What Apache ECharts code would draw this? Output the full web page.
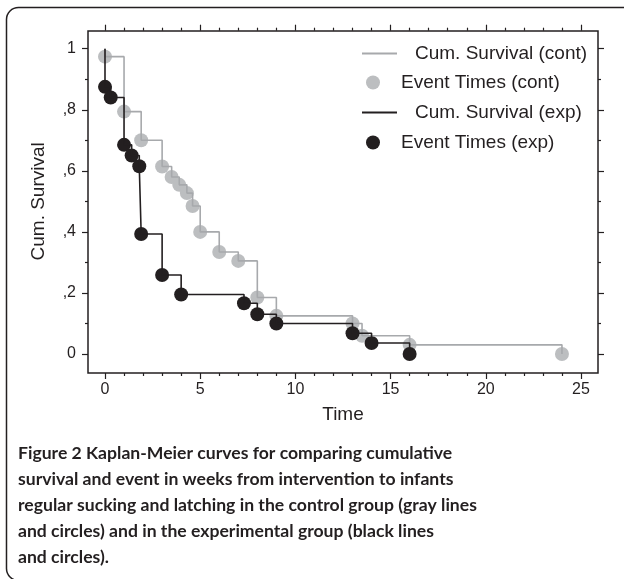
<!DOCTYPE html>
<html>
<head>
<meta charset="utf-8">
<script src="https://cdn.jsdelivr.net/npm/echarts@6/dist/echarts.min.js"></script>
<style>
  html, body { margin: 0; padding: 0; background: #fff; }
  #main { width: 624px; height: 579px; }
</style>
</head>
<body>
<div id="main"></div>
<script>
// control group (gray): event times in weeks and survival after each event
const contTime = [0, 1, 1.9, 3, 3.5, 3.9, 4.3, 4.6, 5, 6, 7, 8, 9, 13, 13.5, 16, 24];
const contSurv = [0.974, 0.794, 0.70, 0.614, 0.58, 0.554, 0.527, 0.485, 0.40, 0.334, 0.305, 0.185, 0.125, 0.10, 0.06, 0.03, 0];
// experimental group (black)
const expTime = [0, 0.3, 1, 1.4, 1.8, 1.9, 3, 4, 7.3, 8, 9, 13, 14, 16];
const expSurv = [0.875, 0.84, 0.685, 0.65, 0.615, 0.393, 0.259, 0.195, 0.166, 0.13, 0.10, 0.068, 0.036, 0];
// both curves start at 1 at time 0
const startSurv = 1;

const xTickLabels = ['0', '5', '10', '15', '20', '25'];
const yTickLabels = ['0', ',2', ',4', ',6', ',8', '1'];

const caption = [
  'Figure 2 Kaplan-Meier curves for comparing cumulative',
  'survival and event in weeks from intervention to infants',
  'regular sucking and latching in the control group (gray lines',
  'and circles) and in the experimental group (black lines',
  'and circles).'
];

const ink = '#231f20';
const grayLine = '#a7a9ac';
const grayDot = '#bcbec0';
const font = 'Liberation Sans, Arial, sans-serif';

function points(ts, ss) {
  return ts.map((t, i) => [t, ss[i]]);
}

let chart = echarts.init(document.getElementById('main'));

//坐标轴公共样式
const tickStyle = { color: ink, width: 1.2 };
function xAx(pos, offset, labels) {
  return {
    type: 'value', gridIndex: 0, position: pos, offset: offset,
    min: 0, max: 25, interval: 5,
    axisLine: { show: false, onZero: false },
    axisTick: { show: true, length: 6, lineStyle: tickStyle },
    minorTick: { show: true, splitNumber: 5, length: 3, lineStyle: tickStyle },
    splitLine: { show: false },
    axisLabel: {
      show: labels, fontSize: 16, margin: 9, color: ink, fontFamily: font,
      formatter: v => xTickLabels[Math.round(v / 5)]
    },
    name: labels ? 'Time' : '',
    nameLocation: 'middle', nameGap: 32,
    nameTextStyle: { fontSize: 19, color: ink, fontFamily: font }
  };
}
function yAx(pos, offset, labels) {
  return {
    type: 'value', gridIndex: 0, position: pos, offset: offset,
    min: 0, max: 1, interval: 0.2,
    axisLine: { show: false, onZero: false },
    axisTick: { show: true, length: 6, lineStyle: tickStyle },
    minorTick: { show: true, splitNumber: 2, length: 3, lineStyle: tickStyle },
    splitLine: { show: false },
    axisLabel: {
      show: labels, fontSize: 16, margin: 12, color: ink, fontFamily: font,
      formatter: v => yTickLabels[Math.round(v / 0.2)]
    },
    name: labels ? 'Cum. Survival' : '',
    nameLocation: 'middle', nameGap: 40,
    nameTextStyle: { fontSize: 19, color: ink, fontFamily: font }
  };
}
function legendItem(name, left, top, isLine) {
  return {
    data: [name], left: left, top: top, padding: 0,
    selectedMode: false,
    icon: isLine ? 'rect' : 'circle',
    itemWidth: isLine ? 35 : 14,
    itemHeight: isLine ? 2 : 14,
    textStyle: {
      fontSize: 19, color: ink, fontFamily: font,
      padding: [0, 0, 0, isLine ? 13 : 16]
    }
  };
}

chart.setOption({
  animation: false,
  backgroundColor: '#fff',
  title: {
    text: caption.join('\n'),
    left: 18, top: 440, padding: 0,
    textStyle: { fontFamily: 'Lato, sans-serif', fontWeight: 'bold', fontSize: 17.6, lineHeight: 26, color: ink }
  },
  graphic: [{
    type: 'rect',
    shape: { x: 6.5, y: 7.5, width: 640, height: 573, r: 12 },
    style: { fill: 'none', stroke: ink, lineWidth: 1.5 },
    silent: true
  }],
  grid: [
    // data area
    { left: 105, top: 48.7, width: 476, height: 305.3 },
    // frame box
    { left: 88, top: 31, width: 510, height: 342, show: true, borderColor: ink, borderWidth: 1.5, backgroundColor: 'transparent' }
  ],
  xAxis: [
    xAx('bottom', 19, true),
    xAx('top', 18, false),
    { type: 'value', gridIndex: 1, show: false }
  ],
  yAxis: [
    yAx('left', 17, true),
    yAx('right', 17, false),
    { type: 'value', gridIndex: 1, show: false }
  ],
  legend: [
    legendItem('Cum. Survival (cont)', 362, 44, true),
    legendItem('Event Times (cont)', 366, 73, false),
    legendItem('Cum. Survival (exp)', 362, 103, true),
    legendItem('Event Times (exp)', 366, 133, false)
  ],
  series: [
    {
      name: 'Cum. Survival (cont)', type: 'line', step: 'end', clip: false,
      xAxisIndex: 0, yAxisIndex: 0, symbol: 'none',
      lineStyle: { color: grayLine, width: 1.6 }, itemStyle: { color: grayLine },
      data: [[0, startSurv]].concat(points(contTime, contSurv))
    },
    {
      name: 'Event Times (cont)', type: 'scatter', clip: false,
      xAxisIndex: 0, yAxisIndex: 0, symbolSize: 14,
      itemStyle: { color: grayDot, opacity: 1 },
      data: points(contTime, contSurv)
    },
    {
      name: 'Cum. Survival (exp)', type: 'line', step: 'end', clip: false,
      xAxisIndex: 0, yAxisIndex: 0, symbol: 'none',
      lineStyle: { color: ink, width: 1.6 }, itemStyle: { color: ink },
      data: [[0, startSurv]].concat(points(expTime, expSurv))
    },
    {
      name: 'Event Times (exp)', type: 'scatter', clip: false,
      xAxisIndex: 0, yAxisIndex: 0, symbolSize: 14,
      itemStyle: { color: ink, opacity: 1 },
      data: points(expTime, expSurv)
    }
  ]
});
</script>
</body>
</html>
